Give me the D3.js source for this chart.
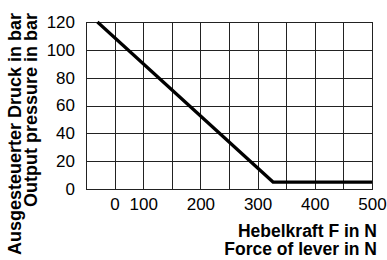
<!DOCTYPE html>
<html lang="en">
<head>
    <meta charset="UTF-8">
    <script src="https://d3js.org/d3.v7.min.js"></script>
    <style>
        body { margin: 0; background: #fff; }
        text { font-family: "Liberation Sans", Arial, sans-serif; }
    </style>
</head>
<body>
    <svg id="graph" width="387" height="260"></svg>
    <script>

    // curve: lever force (N) -> output pressure (bar)
    const force = [20, 327, 500];
    const pressure = [120, 5, 5];

    const xTicks = [50, 100, 200, 300, 400, 500];
    const xTickLabels = ["0", "100", "200", "300", "400", "500"];
    const yTicks = [0, 20, 40, 60, 80, 100, 120];
    const xGrid = [0, 50, 100, 150, 200, 250, 300, 350, 400, 450, 500];

    const yTitle = ["Ausgesteuerter Druck in bar", "Output pressure in bar"];
    const xTitle = ["Hebelkraft F in N", "Force of lever in N"];

    const svg = d3.select("#graph");
    const plotL = 86, plotR = 372, plotT = 22, plotB = 189;

    const x = d3.scaleLinear().domain([0, 500]).range([plotL, plotR]);
    const y = d3.scaleLinear().domain([0, 120]).range([plotB, plotT]);

    // grid
    svg.append("g").selectAll("line").data(xGrid).enter()
        .append("line")
        .attr("x1", d => Math.round(x(d)) + 0.5).attr("x2", d => Math.round(x(d)) + 0.5)
        .attr("y1", plotT).attr("y2", plotB + 1)
        .attr("stroke", "#222").attr("stroke-width", 1);

    svg.append("g").selectAll("line").data(yTicks).enter()
        .append("line")
        .attr("x1", plotL).attr("x2", plotR + 1)
        .attr("y1", d => Math.round(y(d)) + 0.5).attr("y2", d => Math.round(y(d)) + 0.5)
        .attr("stroke", "#222").attr("stroke-width", 1);

    // y axis labels
    const yAxis = d3.axisLeft(y).tickValues(yTicks).tickSize(0).tickPadding(11);
    svg.append("g")
        .attr("transform", "translate(" + plotL + ",0)")
        .call(yAxis)
        .call(g => g.select(".domain").remove())
        .selectAll("text")
        .attr("font-size", 17).attr("fill", "#000")
        .attr("font-family", "Liberation Sans, Arial, sans-serif");

    // x axis labels
    const xAxis = d3.axisBottom(x).tickValues(xTicks)
        .tickFormat((d, i) => xTickLabels[i]).tickSize(0).tickPadding(9);
    svg.append("g")
        .attr("transform", "translate(0," + plotB + ")")
        .call(xAxis)
        .call(g => g.select(".domain").remove())
        .selectAll("text")
        .attr("font-size", 17).attr("fill", "#000")
        .attr("font-family", "Liberation Sans, Arial, sans-serif");

    // curve
    const lnMkr = d3.line()
        .x((d, i) => x(force[i]))
        .y(d => y(d));

    svg.append("path")
        .attr("fill", "none")
        .attr("stroke", "#000")
        .attr("stroke-width", 3.2)
        .attr("d", lnMkr(pressure));

    // axis titles
    svg.append("g").selectAll("text").data(yTitle).enter()
        .append("text")
        .attr("transform", (d, i) => "translate(" + (21 + i * 16) + ",13) rotate(-90)")
        .attr("text-anchor", "end")
        .attr("font-size", 18).attr("font-weight", "bold")
        .text(d => d);

    svg.append("g").selectAll("text").data(xTitle).enter()
        .append("text")
        .attr("x", 377)
        .attr("y", (d, i) => 237 + i * 18)
        .attr("text-anchor", "end")
        .attr("font-size", 17.5).attr("font-weight", "bold")
        .text(d => d);

    </script>
</body>
</html>
